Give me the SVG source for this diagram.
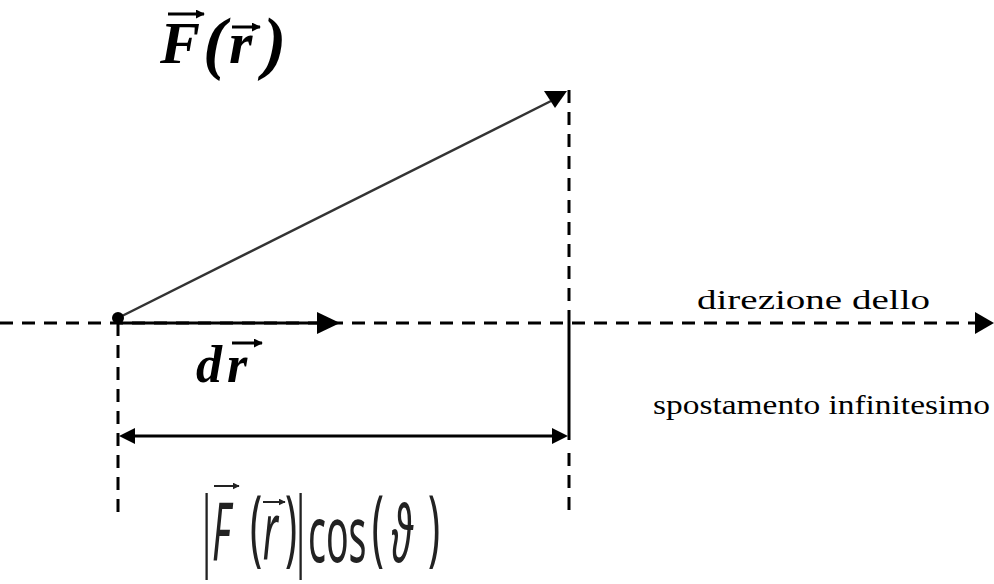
<svg xmlns="http://www.w3.org/2000/svg" width="994" height="584" viewBox="0 0 994 584">
<defs>
<marker id="ah" viewBox="0 0 10 10" refX="9" refY="5" markerWidth="9" markerHeight="9" markerUnits="userSpaceOnUse" orient="auto"><path d="M0,0 L10,5 L0,10 Z" fill="#000"/></marker>
<marker id="ahs" viewBox="0 0 10 10" refX="9" refY="5" markerWidth="7" markerHeight="7" markerUnits="userSpaceOnUse" orient="auto"><path d="M0,0 L10,5 L0,10 Z" fill="#222"/></marker>
</defs>
<style>
.dash{stroke:#000;stroke-width:3;stroke-dasharray:13 9;fill:none}
.solid{stroke:#000;stroke-width:3;fill:none}
.head{fill:#000}
.big{font-family:"Liberation Serif",serif;font-weight:bold;font-style:italic;fill:#000}
.lbl{font-family:"Liberation Serif",serif;font-size:28px;fill:#000}
.frm{font-family:"Noto Sans","DejaVu Sans",sans-serif;fill:#222}
.bar{font-family:"Liberation Serif",serif}
.va{stroke:#000;stroke-width:3;fill:none;marker-end:url(#ah)}
.vs{stroke:#222;stroke-width:2;fill:none;marker-end:url(#ahs)}
</style>
<rect width="994" height="584" fill="#fff"/>
<g id="connectors">
<line class="dash" x1="0" y1="323" x2="976" y2="323"/>
<polygon class="head" points="975,312 994,323 975,334"/>
<line class="solid" x1="118" y1="323" x2="320" y2="323"/>
<polygon class="head" points="317,312 340,323 317,334"/>
<line x1="118" y1="318" x2="551" y2="101" stroke="#333" stroke-width="2.5"/>
<polygon class="head" points="544,91 567,91 555,108"/>
<line class="dash" x1="569" y1="90" x2="569" y2="323"/>
<line class="solid" x1="569" y1="323" x2="569" y2="440"/>
<line class="dash" x1="569" y1="453" x2="569" y2="515"/>
<line class="dash" x1="118" y1="323" x2="118" y2="515"/>
<line class="solid" x1="132" y1="436" x2="555" y2="436"/>
<polygon class="head" points="119,436 135,428 135,444"/>
<polygon class="head" points="568,436 552,428 552,444"/>
</g>
<g id="origin">
<circle cx="118" cy="318" r="6" fill="#000"/>
</g>
<g id="label-F">
<text class="big"><tspan x="160" y="63" font-size="60">F</tspan><tspan x="203" y="66" font-size="70">(</tspan><tspan x="229" y="63" font-size="60">r</tspan><tspan x="263" y="66" font-size="70">)</tspan></text>
<line class="va" x1="168" y1="14" x2="204" y2="14"/>
<line class="va" x1="232" y1="27" x2="260" y2="27"/>
</g>
<g id="label-dr">
<text class="big" font-size="52"><tspan x="196" y="382">d</tspan><tspan x="227" y="382">r</tspan></text>
<line class="va" x1="232" y1="343" x2="262" y2="343"/>
</g>
<g id="label-direction">
<text class="lbl" x="697" y="309" textLength="233" lengthAdjust="spacingAndGlyphs">direzione dello</text>
<text class="lbl" x="653" y="414" textLength="337" lengthAdjust="spacingAndGlyphs">spostamento infinitesimo</text>
</g>
<g id="label-projection">
<text class="frm" transform="translate(200,0) scale(0.48,1)"><tspan class="bar" x="4" y="560" font-size="96">|</tspan><tspan x="25" y="560" font-size="80" font-style="italic">F</tspan><tspan x="104" y="556" font-size="84">(</tspan><tspan x="131" y="560" font-size="80" font-style="italic">r</tspan><tspan x="177" y="556" font-size="84">)</tspan><tspan class="bar" x="200" y="560" font-size="96">|</tspan><tspan x="225" y="562" font-size="78">cos</tspan><tspan x="358" y="556" font-size="84">(</tspan><tspan x="398" y="562" font-size="78" font-style="italic">ϑ</tspan><tspan x="475" y="556" font-size="84">)</tspan></text>
<line class="vs" x1="214" y1="486" x2="239" y2="486"/>
<line class="vs" x1="263" y1="502" x2="285" y2="502"/>
</g>
</svg>
